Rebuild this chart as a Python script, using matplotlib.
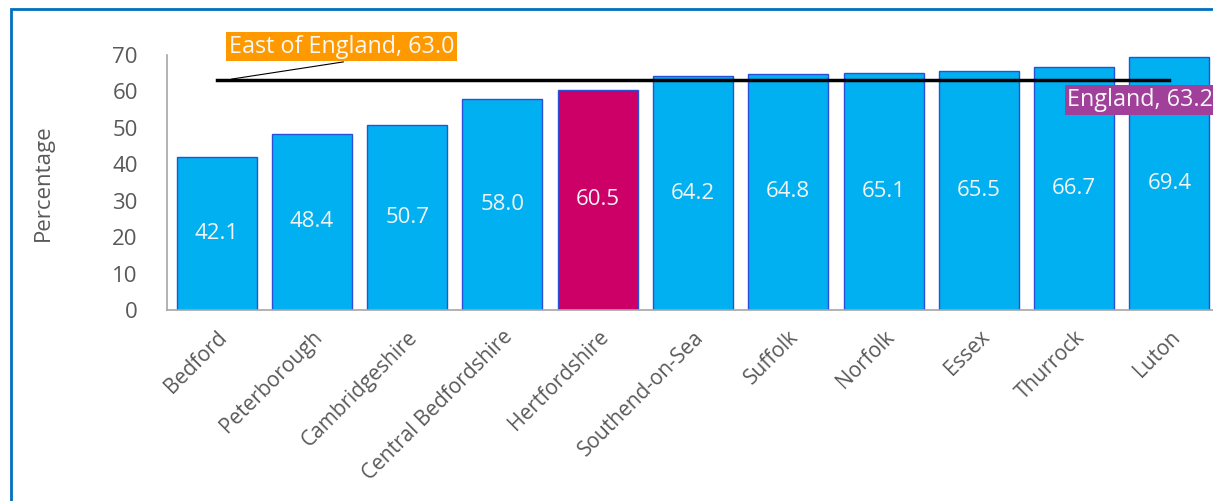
import matplotlib
matplotlib.use("Agg")
import matplotlib.pyplot as plt
from matplotlib.patches import Rectangle

plt.rcParams['font.family'] = ['Open Sans', 'DejaVu Sans']

areas = ["Bedford", "Peterborough", "Cambridgeshire", "Central Bedfordshire",
         "Hertfordshire", "Southend-on-Sea", "Suffolk", "Norfolk", "Essex",
         "Thurrock", "Luton"]
values = [42.1, 48.4, 50.7, 58.0, 60.5, 64.2, 64.8, 65.1, 65.5, 66.7, 69.4]
highlight = "Hertfordshire"
england_value = 63.2
east_value = 63.0
yticks = [0, 10, 20, 30, 40, 50, 60, 70]

W, H = 1213, 501
fig = plt.figure(figsize=(W / 100, H / 100), dpi=100)
ax = fig.add_axes([167 / W, (H - 310) / H, 1052 / W, 255 / H])

x = list(range(len(areas)))
colors = ["#CC0066" if a == highlight else "#00B0F0" for a in areas]
ax.bar(x, values, width=0.84, color=colors, edgecolor="#2B4FD8", linewidth=1.0, zorder=2)
for xi, v in zip(x, values):
    ax.text(xi, v / 2, f"{v:.1f}", ha="center", va="center", color="#F4F4F4", fontsize=16, zorder=3)

ax.plot([x[0], x[-1]], [england_value, england_value], color="black", linewidth=2.5, zorder=4)

ax.set_xlim(-0.52, len(areas) - 0.48)
ax.set_ylim(0, 70)
ax.set_yticks(yticks)
ax.tick_params(axis="y", length=0, labelsize=16, labelcolor="#595959", pad=21)
ax.tick_params(axis="x", length=0, labelsize=15, labelcolor="#595959", pad=12)
ax.set_xticks(x)
ax.set_xticklabels(areas, rotation=45, ha="right", rotation_mode="anchor")
ax.set_ylabel("Percentage", fontsize=16, color="#595959", labelpad=42)
for s in ["top", "right"]:
    ax.spines[s].set_visible(False)
for s in ["left", "bottom"]:
    ax.spines[s].set_color("#A6A6A6")
    ax.spines[s].set_linewidth(1.2)

# leader line for East of England label
ax.plot([0.16, 1.33], [63.4, 68.1], color="black", linewidth=0.8, clip_on=False, zorder=5)
ax.text(0.13, 72.3, f"East of England, {east_value:.1f}", ha="left", va="center", fontsize=16.8,
        color="#F7F7F7", clip_on=False, zorder=6,
        bbox=dict(boxstyle="square,pad=0.12", facecolor="#FF9900", edgecolor="none"))
ax.text(8.93, 57.6, f"England, {england_value:.1f}", ha="left", va="center", fontsize=16.8,
        color="#F7F7F7", clip_on=False, zorder=6,
        bbox=dict(boxstyle="square,pad=0.12", facecolor="#A0409A", edgecolor="none"))

# outer frame
fig.patches.append(Rectangle((11 / W, -0.05), 1.2, (H - 9) / H + 0.05, transform=fig.transFigure,
                             fill=False, edgecolor="#0070C0", linewidth=2.0))

fig.savefig("out.png", dpi=100)
